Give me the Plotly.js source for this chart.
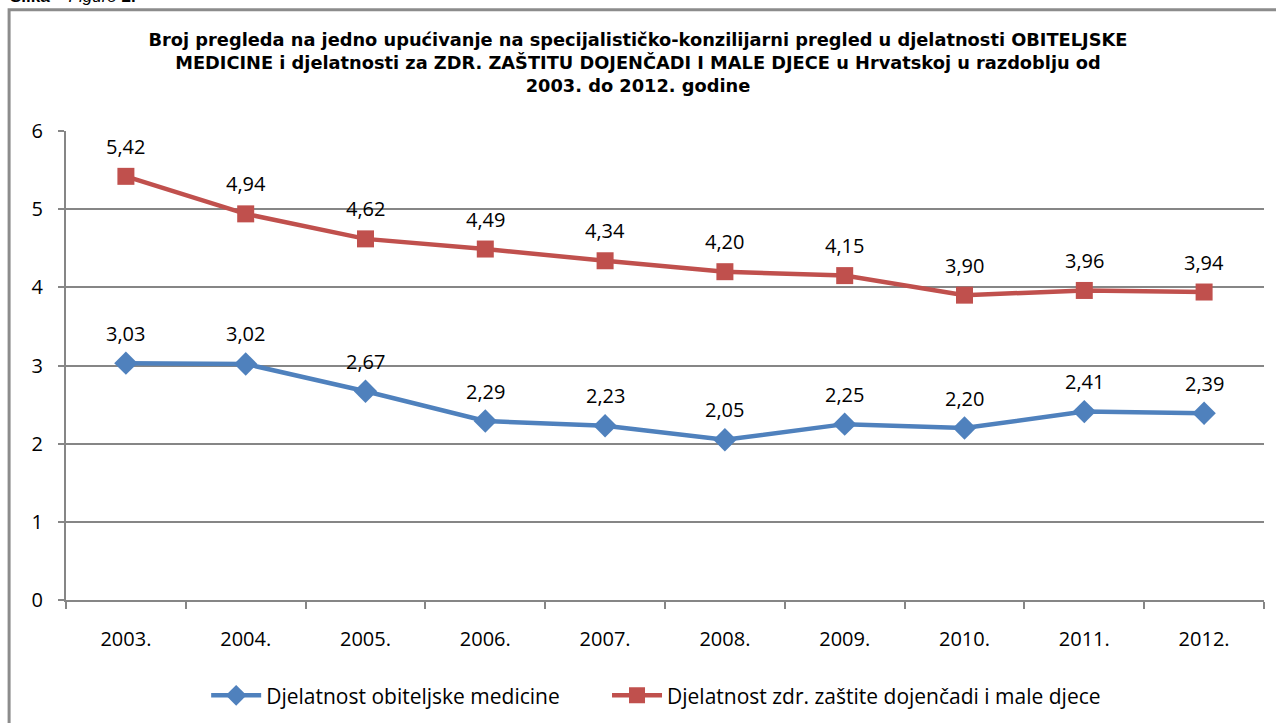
<!DOCTYPE html>
<html>
<head>
<meta charset="utf-8">
<script src="https://cdn.plot.ly/plotly-3.0.1.min.js"></script>
<style>
html,body{margin:0;padding:0;background:#fff;overflow:hidden;}
#chart{width:1276px;height:723px;}
</style>
</head>
<body>
<div id="chart"></div>
<script>
const years = ['2003.', '2004.', '2005.', '2006.', '2007.', '2008.', '2009.', '2010.', '2011.', '2012.'];
const obiteljska = [3.03, 3.02, 2.67, 2.29, 2.23, 2.05, 2.25, 2.20, 2.41, 2.39];
const dojencad = [5.42, 4.94, 4.62, 4.49, 4.34, 4.20, 4.15, 3.90, 3.96, 3.94];
const seriesNames = ['Djelatnost obiteljske medicine', 'Djelatnost zdr. zaštite dojenčadi i male djece'];
const yTicks = [0, 1, 2, 3, 4, 5, 6];
const titleText = 'Broj pregleda na jedno upućivanje na specijalističko-konzilijarni pregled u djelatnosti OBITELJSKE<br>MEDICINE i djelatnosti za ZDR. ZAŠTITU DOJENČADI I MALE DJECE u Hrvatskoj u razdoblju od<br>2003. do 2012. godine';
const figureLabel = '<b>Slika</b> – <i>Figure</i> <b>2.</b>';

const BLUE = '#4F81BD', RED = '#C0504D', GRID = '#868686';
const labFont = (s) => ({family: 'Open Sans, sans-serif', size: s || 20, color: '#000'});

const fmt = v => v.toFixed(2).replace('.', ',');

const traces = [
  {x: years, y: obiteljska, name: seriesNames[0], type: 'scatter', mode: 'lines+markers', legend: 'legend',
   line: {color: BLUE, width: 4.5}, marker: {symbol: 'diamond', size: 18, color: BLUE}},
  {x: years, y: dojencad, name: seriesNames[1], type: 'scatter', mode: 'lines+markers', legend: 'legend2',
   line: {color: RED, width: 4.5}, marker: {symbol: 'square', size: 17, color: RED}}
];

const annotations = [];
[obiteljska, dojencad].forEach(arr => {
  arr.forEach((v, i) => {
    annotations.push({x: i, y: v, xref: 'x', yref: 'y', text: fmt(v), showarrow: false,
      yanchor: 'middle', yshift: 30, font: labFont()});
  });
});
annotations.push({x: -0.048, y: 1.262, xref: 'paper', yref: 'paper', xanchor: 'left', yanchor: 'bottom',
  text: figureLabel, showarrow: false, font: {family: 'Liberation Sans, Arial, sans-serif', size: 17, color: '#000'}});

const legendBase = {orientation: 'h', xanchor: 'left', y: -0.204, yanchor: 'middle', xref: 'paper', yref: 'paper',
  font: labFont(21), bgcolor: 'rgba(0,0,0,0)', itemwidth: 50};

const layout = {
  width: 1276, height: 723,
  margin: {l: 66, r: 12, t: 131, b: 123, pad: 0, autoexpand: false},
  paper_bgcolor: '#fff', plot_bgcolor: '#fff',
  showlegend: true,
  title: {text: titleText, x: 0.5, xref: 'container', xanchor: 'center', y: 1 - 46/723, yref: 'container', yanchor: 'top',
    font: {family: 'DejaVu Sans, sans-serif', size: 17.8, color: '#000', weight: 'bold'}},
  xaxis: {type: 'category', range: [-0.5, 9.5], showgrid: false, zeroline: false,
    showline: true, linecolor: GRID, linewidth: 2,
    ticks: 'outside', tickson: 'boundaries', ticklen: 7, tickwidth: 2, tickcolor: GRID,
    tickfont: labFont(), ticklabelstandoff: 20, fixedrange: true},
  yaxis: {range: [0, 6], tickvals: yTicks, ticktext: yTicks.map(String), showgrid: true, gridcolor: GRID, gridwidth: 2,
    zeroline: false, showline: true, linecolor: GRID, linewidth: 2,
    ticks: 'outside', ticklen: 6, tickwidth: 2, tickcolor: GRID, tickfont: labFont(), ticklabelstandoff: 11, fixedrange: true},
  legend: Object.assign({}, legendBase, {x: 0.117}),
  legend2: Object.assign({}, legendBase, {x: 0.4516}),
  shapes: [{type: 'rect', xref: 'paper', yref: 'paper', x0: -0.0475, x1: 1.03, y0: -0.32, y1: 1.2585,
    line: {color: '#8c8c8c', width: 3}, fillcolor: 'rgba(0,0,0,0)', layer: 'below'}],
  annotations: annotations
};

Plotly.newPlot('chart', traces, layout, {displayModeBar: false, staticPlot: true});
</script>
</body>
</html>
